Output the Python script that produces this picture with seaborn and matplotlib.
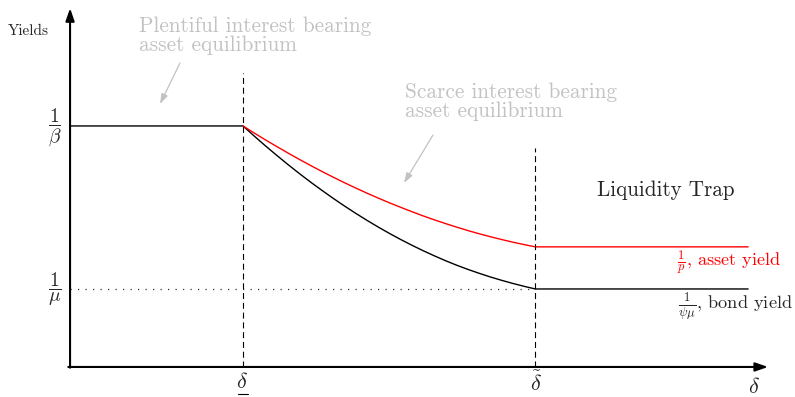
import numpy as np
import pandas as pd
import matplotlib
matplotlib.use("Agg")
import matplotlib.pyplot as plt
import seaborn as sns

# Key thresholds and yield levels (model units)
delta_low = 1.00      # underline-delta: end of the plentiful-asset region
delta_tilde = 2.69    # tilde-delta: start of the liquidity trap
delta_max = 3.92
inv_beta = 3.09       # 1/beta
inv_mu = 1.00         # 1/mu

# Yields along the scarce-asset segment (between the two thresholds)
curve_delta = [1.000, 1.065, 1.130, 1.195, 1.260, 1.325, 1.390, 1.455, 1.520,
               1.585, 1.650, 1.715, 1.780, 1.845, 1.910, 1.975, 2.040, 2.105,
               2.170, 2.235, 2.300, 2.365, 2.430, 2.495, 2.560, 2.625, 2.690]
bond_curve = [3.090, 2.960, 2.834, 2.713, 2.595, 2.481, 2.371, 2.266, 2.164,
              2.066, 1.972, 1.882, 1.796, 1.714, 1.636, 1.562, 1.492, 1.426,
              1.363, 1.305, 1.251, 1.201, 1.154, 1.111, 1.071, 1.034, 1.000]
asset_curve = [3.090, 2.999, 2.911, 2.826, 2.743, 2.662, 2.584, 2.508, 2.435,
               2.364, 2.296, 2.230, 2.167, 2.106, 2.048, 1.992, 1.938, 1.887,
               1.839, 1.793, 1.749, 1.708, 1.670, 1.634, 1.600, 1.569, 1.540]

bond_delta = [0.0] + curve_delta + [delta_max]
bond_yield = [inv_beta] + bond_curve + [bond_curve[-1]]
asset_delta = curve_delta + [delta_max]
asset_yield = asset_curve + [asset_curve[-1]]

df = pd.concat([
    pd.DataFrame({"delta": bond_delta, "yield": bond_yield, "series": "bond"}),
    pd.DataFrame({"delta": asset_delta, "yield": asset_yield, "series": "asset"}),
], ignore_index=True)

sns.set_style("white")
plt.rcParams["mathtext.fontset"] = "cm"
plt.rcParams["font.family"] = ["cmr10", "DejaVu Serif"]
plt.rcParams["axes.unicode_minus"] = False

W, H = 795, 397
fig = plt.figure(figsize=(W / 100, H / 100), dpi=100)
ax = fig.add_axes([0, 0, 1, 1])

sns.lineplot(data=df, x="delta", y="yield", hue="series",
             palette={"bond": "black", "asset": "red"},
             sort=False, estimator=None, legend=False, lw=1.0, ax=ax)

ax.set_xlim(-0.405, 4.191)
ax.set_ylim(-0.385, 4.705)
ax.axis("off")

# Axes with arrowheads
arrow_kw = dict(arrowstyle="-|>,head_length=0.75,head_width=0.26", lw=1.5,
                color="black", shrinkA=0, shrinkB=0)
ax.annotate("", xy=(0, 4.60), xytext=(0, -0.01), arrowprops=arrow_kw)
ax.annotate("", xy=(4.035, 0), xytext=(-0.01, 0), arrowprops=arrow_kw)

# Threshold guides
ax.plot([delta_low, delta_low], [0, 3.77], color="black", lw=0.8, ls=(0, (5.4, 3.4)))
ax.plot([delta_tilde, delta_tilde], [0, 2.81], color="black", lw=0.8, ls=(0, (5.4, 3.4)))
ax.plot([0, delta_tilde], [inv_mu, inv_mu], color="#333333", lw=0.9, ls=(0, (1, 5)))


def fp(x, y):
    return (x / W, 1 - y / H)


T = fig.transFigure
gray = "#c2c2c2"

fig.text(*fp(8, 31), "Yields", fontsize=11, ha="left", va="center")
fig.text(*fp(55, 127), r"$\dfrac{1}{\beta}$", fontsize=14, ha="center", va="center")
fig.text(*fp(55, 289), r"$\dfrac{1}{\mu}$", fontsize=14, ha="center", va="center")

fig.text(*fp(139, 16), "Plentiful interest bearing\nasset equilibrium", fontsize=15.3,
         color=gray, ha="left", va="top", linespacing=1.02)
fig.text(*fp(405, 82), "Scarce interest bearing\nasset equilibrium", fontsize=15.3,
         color=gray, ha="left", va="top", linespacing=1.02)

gray_arrow = dict(arrowstyle="-|>,head_length=0.6,head_width=0.2", lw=0.9,
                  color=gray, shrinkA=0, shrinkB=0)
ax.annotate("", xy=fp(160, 104), xycoords=T, xytext=fp(180, 63), textcoords=T,
            arrowprops=gray_arrow)
ax.annotate("", xy=fp(404, 183), xycoords=T, xytext=fp(433, 135), textcoords=T,
            arrowprops=gray_arrow)

fig.text(*fp(597, 190), "Liquidity Trap", fontsize=15.2, ha="left", va="center")
fig.text(*fp(677, 263), r"$\frac{1}{p}$, asset yield", fontsize=13.1, color="red",
         ha="left", va="center")
fig.text(*fp(678, 307), r"$\frac{1}{\psi\mu}$, bond yield", fontsize=13.2,
         ha="left", va="center")

fig.text(*fp(242, 382), r"$\delta$", fontsize=16, ha="center", va="center")
ax.plot([delta_low - 0.03, delta_low + 0.03], [-0.346, -0.346],
        color="black", lw=0.8, clip_on=False)
fig.text(*fp(536, 383), r"$\tilde{\delta}$", fontsize=16, ha="center", va="center")
fig.text(*fp(754, 387), r"$\delta$", fontsize=16, ha="center", va="center")

fig.savefig("out.png", dpi=100)
